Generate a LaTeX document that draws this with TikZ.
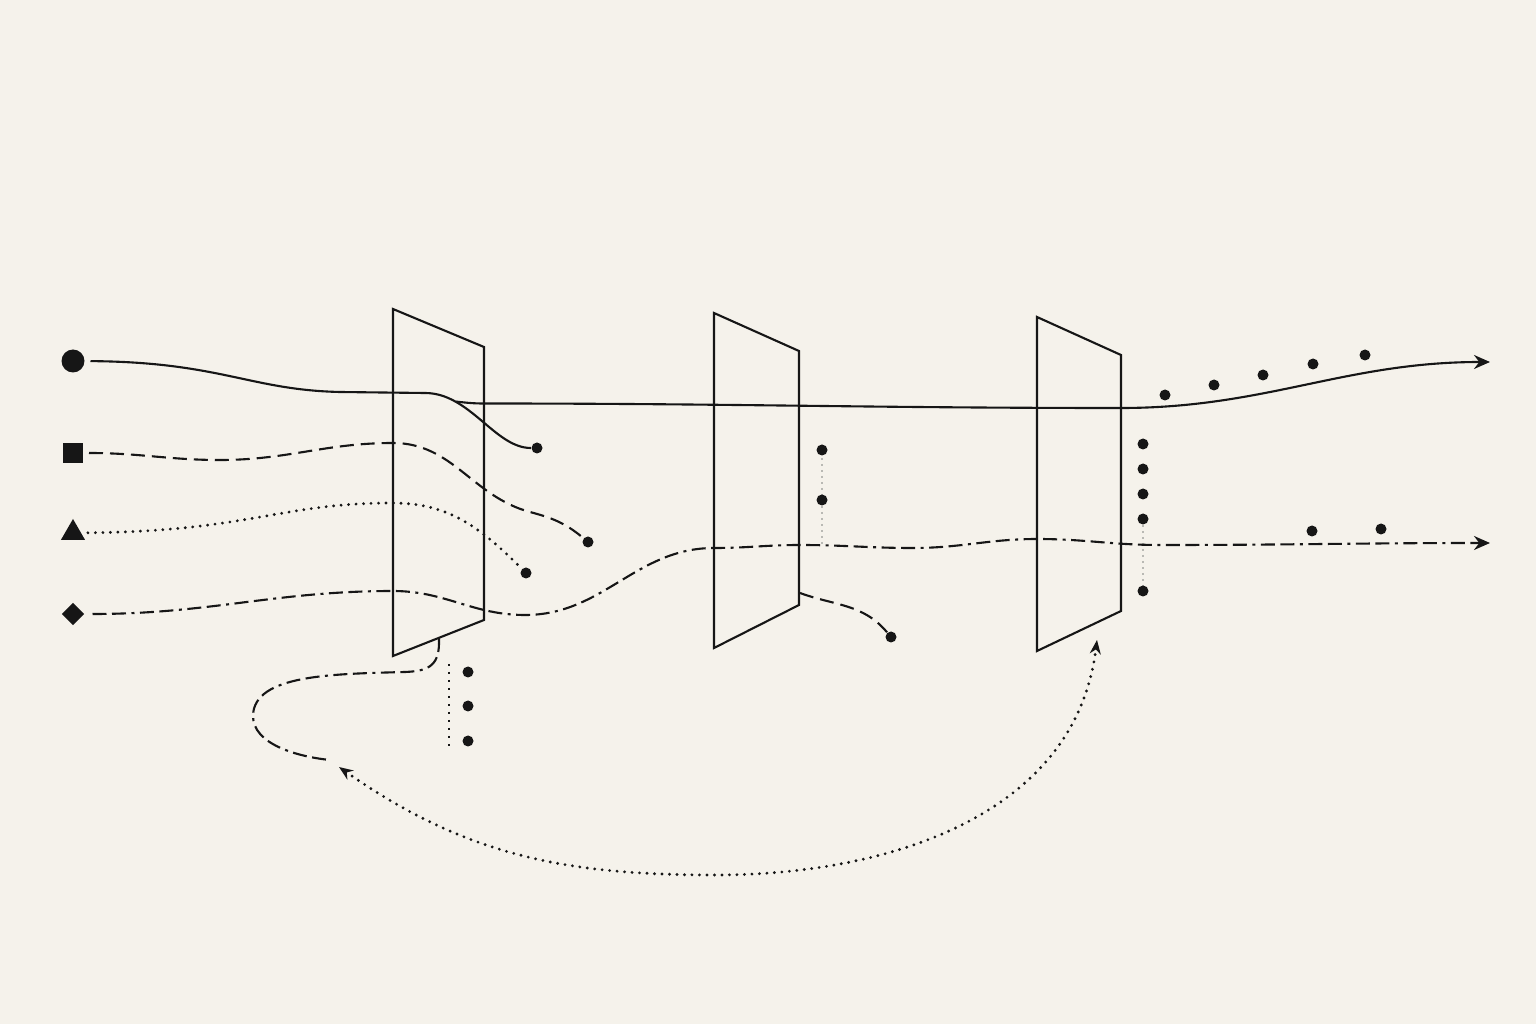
\documentclass[tikz,border=0pt]{standalone}
\usepackage{xcolor}
\usetikzlibrary{arrows.meta,shapes.geometric,calc}
\definecolor{paper}{RGB}{245,242,235}
\definecolor{ink}{RGB}{22,22,22}
\definecolor{faintgray}{RGB}{185,185,180}

\begin{document}
\begin{tikzpicture}[
  x=0.1mm, y=-0.1mm,
  panel/.style={draw=ink, line width=0.6pt, line join=miter},
  solidline/.style={draw=ink, line width=0.6pt},
  dashline/.style={draw=ink, line width=0.6pt, dash pattern=on 1.4mm off 0.7mm},
  dotline/.style={draw=ink, line width=0.9pt, line cap=round, dash pattern=on 0pt off 0.75mm},
  dashdotline/.style={draw=ink, line width=0.6pt,
    dash pattern=on 1.4mm off 0.55mm on 1.4mm off 0.55mm on 0.3mm off 0.55mm},
  guide/.style={draw=faintgray, line width=0.3pt, dash pattern=on 0.2mm off 0.4mm},
  tip/.style={-{Stealth[length=1.6mm,width=1.4mm]}},
  bothtips/.style={{Stealth[length=1.4mm,width=1.1mm]}-{Stealth[length=1.4mm,width=1.1mm]}},
  dot/.style={circle, fill=ink, inner sep=0pt, minimum size=1.1mm},
  marker/.style={fill=ink, inner sep=0pt, outer sep=0.6mm}
]

% paper
\fill[paper] (0,0) rectangle (1536,1024);
\useasboundingbox (0,0) rectangle (1536,1024);

% start markers
\node[marker, circle, minimum size=2.3mm] (mcirc) at (73,361) {};
\node[marker, rectangle, minimum size=2mm] (msq) at (73,453) {};
\node[marker, regular polygon, regular polygon sides=3, minimum size=2.8mm] (mtri) at (73,533) {};
\node[marker, diamond, minimum size=2.7mm] (mdia) at (73,614) {};

% panels
\coordinate (p1tl) at (393,309); \coordinate (p1tr) at (484,347);
\coordinate (p1br) at (484,620); \coordinate (p1bl) at (393,656);
\draw[panel] (p1tl) -- (p1tr) -- (p1br) -- (p1bl) -- cycle;

\coordinate (p2tl) at (714,313); \coordinate (p2tr) at (799,351);
\coordinate (p2br) at (799,605); \coordinate (p2bl) at (714,648);
\draw[panel] (p2tl) -- (p2tr) -- (p2br) -- (p2bl) -- cycle;

\coordinate (p3tl) at (1037,317); \coordinate (p3tr) at (1121,355);
\coordinate (p3br) at (1121,611); \coordinate (p3bl) at (1037,651);
\draw[panel] (p3tl) -- (p3tr) -- (p3br) -- (p3bl) -- cycle;

% faint guides behind dots
\draw[guide] (822,452) -- (822,545);
\draw[guide] (1143,519) -- (1143,591);
\draw[draw=ink, line width=0.4pt, dash pattern=on 0.2mm off 0.6mm] (449,664) -- (449,750);

% end dots
\node[dot] (dA) at (537,448) {};
\node[dot] (dB) at (588,542) {};
\node[dot] (dC) at (526,573) {};
\node[dot] (dD) at (891,637) {};

% dots behind panel 2
\node[dot] (q1) at (822,450) {};
\node[dot] (q2) at (822,500) {};

% dots behind panel 3
\node[dot] (r1) at (1143,444) {};
\node[dot] (r2) at (1143,469) {};
\node[dot] (r3) at (1143,494) {};
\node[dot] (r4) at (1143,519) {};
\node[dot] (r5) at (1143,591) {};

% dots under panel 1
\node[dot] (s1) at (468,672) {};
\node[dot] (s2) at (468,706) {};
\node[dot] (s3) at (468,741) {};

% trailing dots
\node[dot] (t1) at (1165,395) {};
\node[dot] (t2) at (1214,385) {};
\node[dot] (t3) at (1263,375) {};
\node[dot] (t4) at (1313,364) {};
\node[dot] (t5) at (1365,355) {};
\node[dot] (u1) at (1312,531) {};
\node[dot] (u2) at (1381,529) {};

% solid path, bending into the first dot
\coordinate (split) at (456,401.6);
\coordinate (outA) at (1490,362);
\draw[solidline] (mcirc) .. controls (220,362) and (250,390) .. (340,392) -- (425,393)
  .. controls (470,393) and (495,448) .. (dA);
% solid path, carried on
\draw[solidline, tip] (split) to[out=-6,in=180] (484,403.5)
  to[out=0,in=180] (1121,408) to[out=0,in=180] (outA);

% dashed path
\draw[dashline] (msq) to[out=0,in=180] (220,460) to[out=0,in=180] (393,443)
  to[out=0,in=165] (530,512) to[out=-15,in=140] (dB);

% dotted path
\draw[dotline] (mtri) .. controls (250,531) and (280,503) .. (393,503)
  to[out=0,in=135] (dC);

% dash-dot path
\coordinate (outB) at (1490,543);
\draw[dashdotline, tip] (mdia) to[out=0,in=180] (393,591) to[out=0,in=180] (525,615)
  to[out=0,in=180] (714,548) to[out=0,in=180] (800,545) to[out=0,in=180] (913,548)
  to[out=0,in=180] (1037,539) to[out=0,in=180] (1160,545) to[out=0,in=180] (outB);

% branch off panel 2
\coordinate (p2out) at (800,593);
\draw[dashline] (p2out) to[out=-20,in=130] (dD);

% loop under panel 1
\coordinate (loopS) at (439,638);
\coordinate (loopE) at (330,760);
\draw[dashdotline] (loopS) .. controls (440,665) and (430,671) .. (405,672)
  .. controls (330,674) and (255,675) .. (253,715)
  .. controls (252,745) and (300,757) .. (loopE);

% return arc
\coordinate (arcA) at (339,767);
\coordinate (arcB) at (1097,640);
\draw[dotline, bothtips] (arcA) to[out=-35,in=180] (715,875) to[out=0,in=-97] (arcB);

\end{tikzpicture}
\end{document}
